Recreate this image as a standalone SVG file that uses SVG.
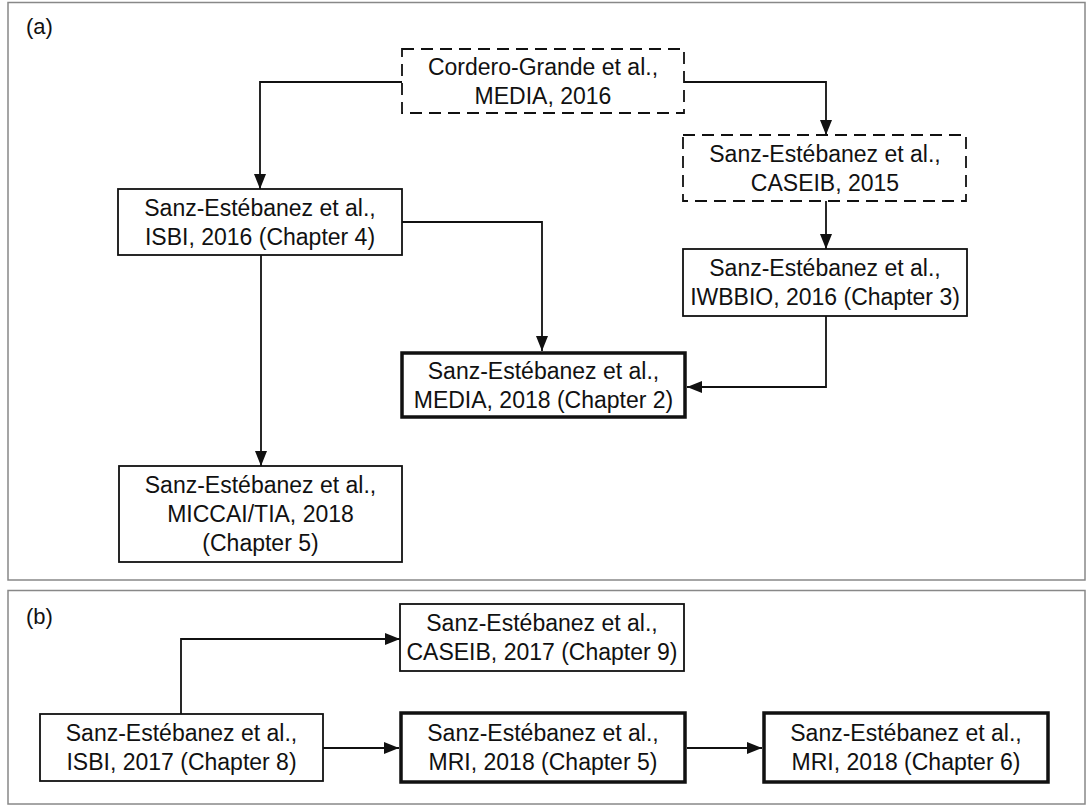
<svg xmlns="http://www.w3.org/2000/svg" width="1086" height="805" viewBox="0 0 1086 805">
<style>
.panel{fill:#fff;stroke:#888;stroke-width:1.5}
.box{fill:#fff;stroke:#111;stroke-width:1.8}
.dash{fill:#fff;stroke:#111;stroke-width:1.8;stroke-dasharray:12 7}
.thick{fill:#fff;stroke:#111;stroke-width:3.5}
text{font-family:"Liberation Sans",Arial,sans-serif;font-size:23px;fill:#111}
.c{text-anchor:middle}
.lbl{font-size:22px}
.conn path{fill:none;stroke:#111;stroke-width:1.8}
</style>
<defs>
<marker id="ah" markerUnits="userSpaceOnUse" markerWidth="15" markerHeight="12" refX="15" refY="6" orient="auto">
<path d="M0,0 L15,6 L0,12 z" fill="#111"/>
</marker>
</defs>
<rect class="panel" x="8" y="2.5" width="1077" height="577.5"/>
<rect class="panel" x="8" y="590.5" width="1077" height="213.5"/>
<text class="lbl" x="26" y="34">(a)</text>
<text class="lbl" x="26" y="624">(b)</text>

<g class="conn">
<path d="M402,82 H260 V189" marker-end="url(#ah)"/>
<path d="M684,82 H826 V135" marker-end="url(#ah)"/>
<path d="M826,201 V249" marker-end="url(#ah)"/>
<path d="M402,222 H542 V351" marker-end="url(#ah)"/>
<path d="M826,316 V387 H687" marker-end="url(#ah)"/>
<path d="M261,255 V466" marker-end="url(#ah)"/>
<path d="M181,714 V639 H400" marker-end="url(#ah)"/>
<path d="M323,748 H399" marker-end="url(#ah)"/>
<path d="M687,748 H762" marker-end="url(#ah)"/>
</g>

<g id="cordero">
<rect class="dash" x="402" y="49" width="282" height="64"/>
<text class="c" x="543" y="75">Cordero-Grande et al.,</text>
<text class="c" x="543" y="104">MEDIA, 2016</text>
</g>
<g id="caseib2015">
<rect class="dash" x="683" y="135" width="283" height="66"/>
<text class="c" x="825" y="161.5">Sanz-Estébanez et al.,</text>
<text class="c" x="825" y="190.5">CASEIB, 2015</text>
</g>
<g id="isbi2016">
<rect class="box" x="118" y="189" width="284" height="66"/>
<text class="c" x="260" y="215.5">Sanz-Estébanez et al.,</text>
<text class="c" x="260" y="244.5">ISBI, 2016 (Chapter 4)</text>
</g>
<g id="iwbbio2016">
<rect class="box" x="683" y="249" width="284" height="67"/>
<text class="c" x="825" y="276">Sanz-Estébanez et al.,</text>
<text class="c" x="825" y="305">IWBBIO, 2016 (Chapter 3)</text>
</g>
<g id="media2018">
<rect class="thick" x="402" y="353" width="283" height="64"/>
<text class="c" x="543.5" y="378.5">Sanz-Estébanez et al.,</text>
<text class="c" x="543.5" y="407.5">MEDIA, 2018 (Chapter 2)</text>
</g>
<g id="miccai2018">
<rect class="box" x="119" y="466" width="283" height="96"/>
<text class="c" x="260.5" y="493">Sanz-Estébanez et al.,</text>
<text class="c" x="260.5" y="522">MICCAI/TIA, 2018</text>
<text class="c" x="260.5" y="551">(Chapter 5)</text>
</g>

<g id="caseib2017">
<rect class="box" x="400" y="604" width="284" height="67"/>
<text class="c" x="542" y="631">Sanz-Estébanez et al.,</text>
<text class="c" x="542" y="660">CASEIB, 2017 (Chapter 9)</text>
</g>
<g id="isbi2017">
<rect class="box" x="40" y="714" width="283" height="67"/>
<text class="c" x="181.5" y="741">Sanz-Estébanez et al.,</text>
<text class="c" x="181.5" y="770">ISBI, 2017 (Chapter 8)</text>
</g>
<g id="mri2018ch5">
<rect class="thick" x="401" y="713" width="284" height="69"/>
<text class="c" x="543" y="741">Sanz-Estébanez et al.,</text>
<text class="c" x="543" y="770">MRI, 2018 (Chapter 5)</text>
</g>
<g id="mri2018ch6">
<rect class="thick" x="764" y="713" width="284" height="69"/>
<text class="c" x="906" y="741">Sanz-Estébanez et al.,</text>
<text class="c" x="906" y="770">MRI, 2018 (Chapter 6)</text>
</g>
</svg>
